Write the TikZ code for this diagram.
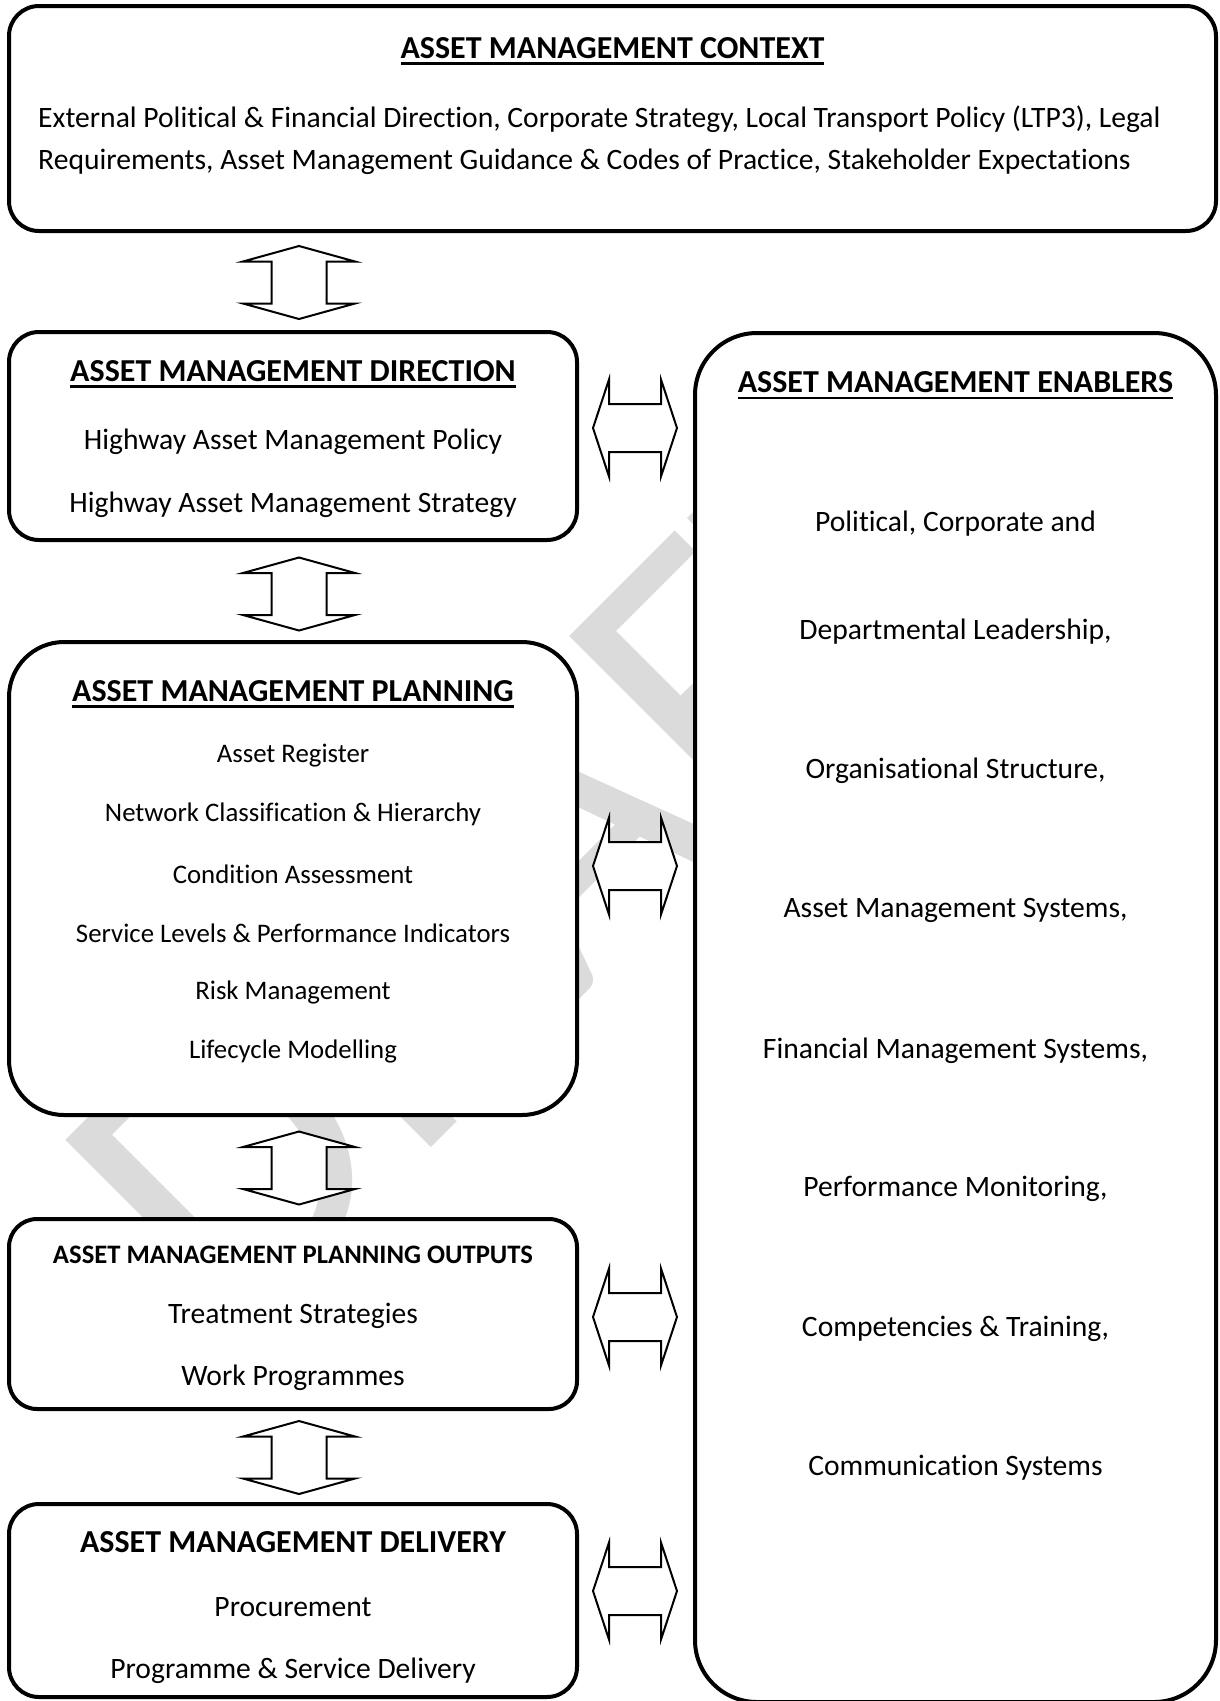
\documentclass[tikz,border=0pt]{standalone}
\usepackage{fontspec}
\setmainfont{Carlito}[Ligatures={NoCommon}]
\newcommand{\ulx}[1]{\setbox0=\hbox{#1}\leavevmode\rlap{\raisebox{-6.5pt}{\rule{\wd0}{2.5pt}}}\box0}
\tikzset{
  box/.style={draw, line width=4pt, fill=white, inner sep=0pt},
  ttl/.style={font=\fontsize{32}{38}\selectfont\bfseries, inner sep=0pt},
  txt/.style={font=\fontsize{29.6}{35}\selectfont, inner sep=0pt},
  txtml/.style={font=\fontsize{29.6}{42}\selectfont, inner sep=0pt, align=left},
  sml/.style={font=\fontsize{26.8}{32}\selectfont, inner sep=0pt},
  smlb/.style={font=\fontsize{26.67}{32}\selectfont\bfseries, inner sep=0pt},
  arrline/.style={draw, line width=2pt, line join=miter, fill=white},
  wm/.style={text=black!14, inner sep=0pt, font=\fontsize{411}{411}\selectfont},
  vdarr/.pic={\path[arrline] (0,-36.5) -- (56,-21) -- (27.5,-21) -- (27.5,21) -- (56,21) -- (0,36.5) -- (-56,21) -- (-27.5,21) -- (-27.5,-21) -- (-56,-21) -- cycle;},
  hdarr/.pic={\path[arrline] (-42,0) -- (-26,-48.5) -- (-26,-24) -- (26,-24) -- (26,-48.5) -- (42,0) -- (26,48.5) -- (26,24) -- (-26,24) -- (-26,48.5) -- cycle;}
}
\begin{document}
\begin{tikzpicture}[x=1pt,y=-1pt]
\useasboundingbox[fill=white] (0,0) rectangle (1220,1701);
% watermark
\node[wm, rotate=45, anchor=base west] (wmark) at (232,1347) {DRAFT};
% boxes
\node[box, rounded corners=30pt, minimum width=1207pt, minimum height=225pt] (ctx) at (612.5,118.5) {};
\node[box, rounded corners=30pt, minimum width=568pt, minimum height=208pt] (dir) at (293,436) {};
\node[box, rounded corners=55pt, minimum width=568pt, minimum height=473pt] (plan) at (293,878.5) {};
\node[box, rounded corners=28pt, minimum width=568pt, minimum height=190pt] (outp) at (293,1314) {};
\node[box, rounded corners=30pt, minimum width=568pt, minimum height=193pt] (deliv) at (293,1600.5) {};
\node[box, rounded corners=62pt, minimum width=521pt, minimum height=1369pt] (enab) at (955.5,1017.5) {};
% context
\node[ttl] (ctxt) at (612.5,51) {\ulx{ASSET MANAGEMENT CONTEXT}};
\node[txtml, anchor=west] (ctxb) at (38,140) {External Political \& Financial Direction, Corporate Strategy, Local Transport Policy (LTP3), Legal\\Requirements, Asset Management Guidance \& Codes of Practice, Stakeholder Expectations};
% direction
\node[ttl] (dirt) at (293,374) {\ulx{ASSET MANAGEMENT DIRECTION}};
\node[txt] (dir1) at (293,442) {Highway Asset Management Policy};
\node[txt] (dir2) at (293,505) {Highway Asset Management Strategy};
% planning
\node[ttl] (plant) at (293,694) {\ulx{ASSET MANAGEMENT PLANNING}};
\node[sml] (plan1) at (293,755.6) {Asset Register};
\node[sml] (plan2) at (293,814.1) {Network Classification \& Hierarchy};
\node[sml] (plan3) at (293,873.8) {Condition Assessment};
\node[sml] (plan4) at (293,933.4) {Service Levels \& Performance Indicators};
\node[sml] (plan5) at (293,992) {Risk Management};
\node[sml] (plan6) at (293,1051.6) {Lifecycle Modelling};
% outputs
\node[smlb] (outt) at (293,1255) {ASSET MANAGEMENT PLANNING OUTPUTS};
\node[txt] (out1) at (293,1316.2) {Treatment Strategies};
\node[txt] (out2) at (293,1378) {Work Programmes};
% delivery
\node[ttl] (delt) at (293,1542) {ASSET MANAGEMENT DELIVERY};
\node[txt] (del1) at (293,1607) {Procurement};
\node[txt] (del2) at (293,1670.8) {Programme \& Service Delivery};
% enablers
\node[ttl] (ent) at (955.5,385.7) {\ulx{ASSET MANAGEMENT ENABLERS}};
\node[txt] (en1) at (955.5,524) {Political, Corporate and};
\node[txt] (en2) at (955.5,631.5) {Departmental Leadership,};
\node[txt] (en3) at (955.5,770.5) {Organisational Structure,};
\node[txt] (en4) at (955.5,910.5) {Asset Management Systems,};
\node[txt] (en5) at (955.5,1050.5) {Financial Management Systems,};
\node[txt] (en6) at (955.5,1189.3) {Performance Monitoring,};
\node[txt] (en7) at (955.5,1329.2) {Competencies \& Training,};
\node[txt] (en8) at (955.5,1468) {Communication Systems};
% block arrows
\pic (va) at (299,282.5) {vdarr};
\pic (vb) at (299,594) {vdarr};
\pic (vc) at (299,1168) {vdarr};
\pic (vd) at (299,1457.5) {vdarr};
\pic (ha) at (635,428) {hdarr};
\pic (hb) at (635,866) {hdarr};
\pic (hc) at (635,1317) {hdarr};
\pic (hd) at (635,1591) {hdarr};
\end{tikzpicture}
\end{document}
